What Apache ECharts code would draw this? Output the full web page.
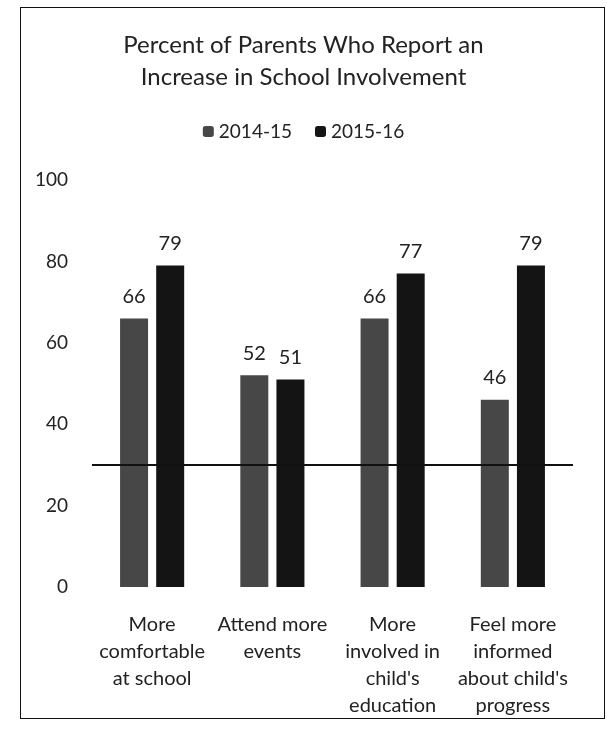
<!DOCTYPE html>
<html>
<head>
<meta charset="utf-8">
<script src="https://cdn.jsdelivr.net/npm/echarts@6/dist/echarts.min.js"></script>
<style>
  body { margin: 0; background: #fff; }
  #wrap { position: relative; width: 607px; height: 736px; }
  #chart { width: 607px; height: 736px; }
  .frame { position: absolute; left: 20px; top: 7px; width: 583px; height: 710px; border: 1px solid #111; pointer-events: none; }
</style>
</head>
<body>
<div id="wrap">
  <div id="chart"></div>
  <div class="frame"></div>
</div>
<script>
const categories = [
  'More\ncomfortable\nat school',
  'Attend more\nevents',
  'More\ninvolved in\nchild\'s\neducation',
  'Feel more\ninformed\nabout child\'s\nprogress'
];
const seriesNames = ['2014-15', '2015-16'];
const values1415 = [66, 52, 66, 46];
const values1516 = [79, 51, 77, 79];
const refLineValue = 30;

const font = 'Lato, "Open Sans", sans-serif';

const chart = echarts.init(document.getElementById('chart'));

const labelStyle = {
  show: true,
  position: 'top',
  distance: 12,
  color: '#222',
  fontSize: 20,
  fontFamily: font
};

chart.setOption({
  animation: false,
  title: {
    text: 'Percent of Parents Who Report an\nIncrease in School Involvement',
    left: 'center',
    top: 29,
    padding: [0, 0, 0, 29],
    textStyle: {
      color: '#222',
      fontSize: 24,
      fontWeight: 'normal',
      fontFamily: font,
      lineHeight: 32
    }
  },
  legend: {
    data: seriesNames,
    top: 122,
    left: 'center',
    padding: [0, 0, 0, 38],
    itemWidth: 11,
    itemHeight: 11,
    itemGap: 23,
    textStyle: { color: '#222', fontSize: 19, fontFamily: font }
  },
  grid: { left: 92, right: 34, top: 180, bottom: 149 },
  xAxis: {
    type: 'category',
    data: categories,
    axisLine: { show: false },
    axisTick: { show: false },
    axisLabel: {
      color: '#222',
      fontSize: 20,
      fontFamily: font,
      lineHeight: 27,
      margin: 24,
      interval: 0
    }
  },
  yAxis: {
    type: 'value',
    min: 0,
    max: 100,
    interval: 20,
    axisLine: { show: false },
    axisTick: { show: false },
    splitLine: { show: false },
    axisLabel: { color: '#222', fontSize: 19, fontFamily: font, margin: 24 }
  },
  series: [
    {
      name: seriesNames[0],
      type: 'bar',
      data: values1415,
      barWidth: 28,
      barGap: '29%',
      itemStyle: { color: '#474747' },
      label: labelStyle,
      markLine: {
        silent: true,
        symbol: 'none',
        label: { show: false },
        lineStyle: { color: '#111', width: 2, type: 'solid' },
        data: [{ yAxis: refLineValue }]
      }
    },
    {
      name: seriesNames[1],
      type: 'bar',
      data: values1516,
      barWidth: 28,
      itemStyle: { color: '#141414' },
      label: labelStyle
    }
  ]
});
</script>
</body>
</html>
